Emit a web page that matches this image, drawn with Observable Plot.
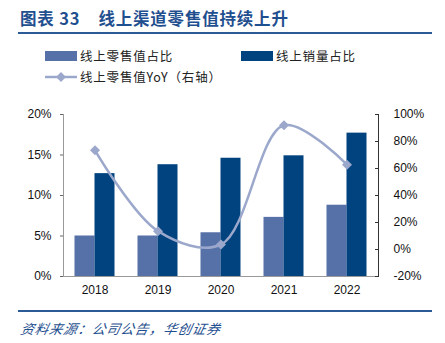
<!DOCTYPE html>
<html><head><meta charset="utf-8">
<script src="https://cdn.jsdelivr.net/npm/d3@7"></script>
<script src="https://cdn.jsdelivr.net/npm/@observablehq/plot@0.6"></script>
<style>
html,body{margin:0;padding:0;background:#fff;}
body{width:445px;height:343px;position:relative;overflow:hidden;font-family:"Liberation Sans",Arial,sans-serif;}
#title{position:absolute;left:20px;top:7px;font-family:"Noto Sans CJK SC",sans-serif;font-weight:bold;font-size:16.5px;letter-spacing:0.8px;color:#1f4f8f;white-space:nowrap;line-height:22px;}
.rule{position:absolute;left:18px;width:414px;height:2px;background:#2c5a96;}
.leg{position:absolute;font-family:"Noto Sans CJK SC",sans-serif;font-size:12.5px;letter-spacing:0.8px;color:#222;white-space:nowrap;line-height:16px;}
.sw{position:absolute;width:32px;height:10px;}
#src{position:absolute;left:21px;top:318px;font-family:"Noto Sans CJK SC",sans-serif;font-style:italic;font-size:13.5px;letter-spacing:0.8px;color:#1f4f8f;white-space:nowrap;transform:skewX(-12deg);}
#chart{position:absolute;left:0;top:100px;}
</style></head>
<body>
<div id="title">图表 33&nbsp;&nbsp;&nbsp;&nbsp;线上渠道零售值持续上升</div>
<div class="rule" style="top:32px"></div>
<div class="sw" style="left:45px;top:51px;background:#5670a8"></div>
<div class="leg" style="left:80px;top:48px">线上零售值占比</div>
<div class="sw" style="left:241px;top:51px;background:#00437f"></div>
<div class="leg" style="left:276px;top:48px">线上销量占比</div>
<svg style="position:absolute;left:45px;top:70px" width="34" height="14"><line x1="0" y1="7" x2="32" y2="7" stroke="#9ba8cc" stroke-width="2.5"/><rect x="12.5" y="3.5" width="7" height="7" fill="#9ba8cc" transform="rotate(45 16 7)"/></svg>
<div class="leg" style="left:80px;top:69px">线上零售值YoY（右轴）</div>
<div id="chart"></div>
<div class="rule" style="top:310px"></div>
<div id="src">资料来源：公司公告，华创证券</div>
<script>
const years = ["2018","2019","2020","2021","2022"];
const valueShare = [5.0, 5.0, 5.4, 7.3, 8.8];      // 线上零售值占比 (%)
const volumeShare = [12.7, 13.8, 14.6, 14.9, 17.7]; // 线上销量占比 (%)
const valueYoY = [73.5, 13.6, 3.7, 92.0, 62.8];     // 线上零售值YoY (%)
const leftTicks = [0, 5, 10, 15, 20];
const rightTicks = [-20, 0, 20, 40, 60, 80, 100];

const rMin = -20, rMax = 100, lMax = 20;
const toLeft = v => (v - rMin) / (rMax - rMin) * lMax;
const toRight = v => Math.round(v / lMax * (rMax - rMin) + rMin);

const data = years.map((y, i) => ({year: y, value: valueShare[i], volume: volumeShare[i], yoy: valueYoY[i]}));
const lightC = "#5670a8", darkC = "#00437f", lineC = "#9ba8cc";

const plot = Plot.plot({
  width: 445, height: 200,
  marginTop: 14, marginBottom: 24, marginLeft: 63, marginRight: 67,
  style: {fontFamily: "'Liberation Sans', Arial, sans-serif", fontSize: "12px", color: "#111", background: "transparent"},
  x: {domain: years, padding: 0, label: null},
  y: {domain: [0, lMax], label: null},
  marks: [
    Plot.barY(data, {x: "year", y: "value", fill: lightC, insetLeft: 11.5, insetRight: 31.5}),
    Plot.barY(data, {x: "year", y: "volume", fill: darkC, insetLeft: 31.5, insetRight: 11.5}),
    Plot.ruleY([0], {stroke: "#999"}),
    Plot.ruleX([years[0]], {dx: -31.5, stroke: "#999"}),
    Plot.ruleX([years[years.length - 1]], {dx: 31.5, stroke: "#333"}),
    Plot.line(data, {x: "year", y: d => toLeft(d.yoy), curve: "catmull-rom", stroke: lineC, strokeWidth: 2.5}),
    Plot.dot(data, {x: "year", y: d => toLeft(d.yoy), symbol: "square", rotate: 45, r: 4, fill: lineC}),
    Plot.axisY({ticks: leftTicks, tickFormat: d => d + "%", tickSize: 3, tickPadding: 9, stroke: "#666"}),
    Plot.axisY({anchor: "right", ticks: rightTicks.map(toLeft), tickFormat: d => toRight(d) + "%", tickSize: -4, tickPadding: 19, textAnchor: "start", stroke: "#333"}),
    Plot.axisX({tickSize: 0, tickPadding: 9})
  ]
});
document.getElementById("chart").appendChild(plot);
</script>
</body></html>
